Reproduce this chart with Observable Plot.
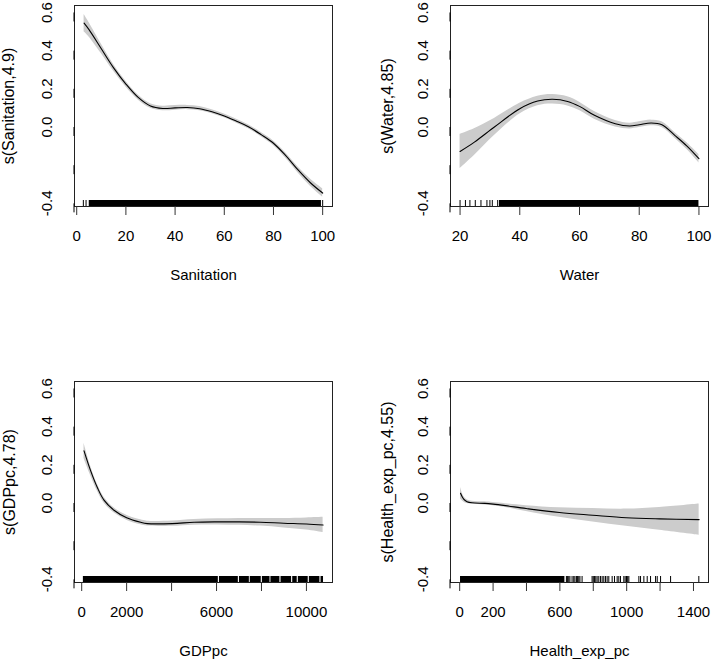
<!DOCTYPE html>
<html><head><meta charset="utf-8">
<script src="https://cdn.jsdelivr.net/npm/d3@7"></script>
<script src="https://cdn.jsdelivr.net/npm/@observablehq/plot@0.6"></script>
<style>
body{margin:0;background:#fff;}
#wrap{position:relative;width:713px;height:660px;overflow:hidden;}
#wrap svg{position:absolute;}
</style></head><body><div id="wrap"></div>
<script>
// Shared y axis
const yTicks = [-0.4, -0.2, 0, 0.2, 0.4, 0.6];
const yTickLabels = ["-0.4", "", "0.0", "0.2", "0.4", "0.6"];

// Panel 1: Sanitation
const sanX   = [3, 5, 10, 15, 20, 25, 30, 35, 40, 45, 50, 55, 60, 65, 70, 75, 80, 85, 90, 95, 100];
const sanFit = [0.544, 0.51, 0.41, 0.31, 0.225, 0.155, 0.11, 0.097, 0.100, 0.102, 0.096, 0.080, 0.058, 0.030, 0.0, -0.040, -0.085, -0.150, -0.225, -0.292, -0.346];
const sanSe  = [0.045, 0.038, 0.025, 0.018, 0.015, 0.013, 0.012, 0.012, 0.012, 0.011, 0.011, 0.010, 0.010, 0.010, 0.010, 0.011, 0.012, 0.014, 0.016, 0.019, 0.022];
const sanRugTicks = [2.7, 3.8, 100];
const sanRugDense = [[5.1, 99.5]];
const sanXTicks = [0, 20, 40, 60, 80, 100];
const sanXLabels = ["0", "20", "40", "60", "80", "100"];

// Panel 2: Water
const watX   = [20, 24.8, 31.5, 40, 46, 51, 56, 60, 65, 72, 76.8, 80, 84, 87.6, 92, 96, 100];
const watFit = [-0.128, -0.079, 0.0, 0.096, 0.136, 0.145, 0.134, 0.108, 0.061, 0.017, 0.005, 0.012, 0.021, 0.012, -0.045, -0.100, -0.166];
const watSe  = [0.09, 0.07, 0.045, 0.028, 0.025, 0.025, 0.024, 0.022, 0.020, 0.017, 0.015, 0.015, 0.015, 0.015, 0.015, 0.018, 0.022];
const watRugTicks = [20, 21.8, 23.3, 25.1, 27, 29, 30, 30.8, 32.6];
const watRugDense = [[33.2, 100]];
const watXTicks = [20, 40, 60, 80, 100];
const watXLabels = ["20", "40", "60", "80", "100"];

// Panel 3: GDPpc
const gdpX   = [104, 400, 696, 993, 1437, 2000, 2622, 2919, 4030, 5000, 6030, 7000, 7956, 8993, 10000, 10742];
const gdpFit = [0.273, 0.168, 0.081, 0.015, -0.038, -0.077, -0.101, -0.108, -0.108, -0.101, -0.099, -0.099, -0.101, -0.106, -0.110, -0.115];
const gdpSe  = [0.04, 0.025, 0.018, 0.015, 0.013, 0.013, 0.013, 0.013, 0.014, 0.015, 0.016, 0.018, 0.020, 0.025, 0.032, 0.040];
const gdpRugTicks = [];
const gdpRugDense = [[75, 6080], [6130, 6970], [7020, 7460], [7500, 7990], [8040, 8380], [8420, 8820], [8870, 9340], [9390, 9590], [9640, 10080], [10130, 10600], [10650, 10760]];
const gdpXTicks = [0, 2000, 4000, 6000, 8000, 10000];
const gdpXLabels = ["0", "2000", "", "6000", "", "10000"];

// Panel 4: Health_exp_pc
const hlthX   = [5, 24, 44, 74, 150, 200, 274, 398, 597, 797, 997, 1197, 1434];
const hlthFit = [0.051, 0.020, 0.007, 0.001, -0.002, -0.006, -0.014, -0.029, -0.050, -0.064, -0.077, -0.083, -0.087];
const hlthSe  = [0.030, 0.015, 0.010, 0.008, 0.008, 0.008, 0.010, 0.015, 0.025, 0.035, 0.045, 0.060, 0.082];
const hlthRugTicks = [639, 645, 653, 660, 673, 683, 690, 699, 705, 713, 720, 733, 793, 800, 807, 815, 823, 833, 843, 853, 863, 873, 883, 893, 913, 927, 943, 953, 963, 983, 991, 999, 1006, 1013, 1073, 1083, 1103, 1123, 1143, 1173, 1183, 1203, 1263, 1432];
const hlthRugDense = [[5, 630]];
const hlthXTicks = [0, 200, 400, 600, 800, 1000, 1200, 1400];
const hlthXLabels = ["0", "200", "", "600", "", "1000", "", "1400"];

const yDom = [-0.4165, 0.6365];
const rugH = 6 / 191;

function panel(o) {
  const data = o.xs.map((x, i) => ({x, y: o.fit[i], lo: o.fit[i] - o.se[i], hi: o.fit[i] + o.se[i]}));
  const p = Plot.plot({
    width: o.w, height: o.h,
    marginLeft: o.ml, marginRight: o.mr, marginTop: o.mt, marginBottom: o.mb,
    style: {fontFamily: "'Liberation Sans', Arial, sans-serif", fontSize: "15px", color: "#000", background: "transparent", overflow: "visible"},
    x: {domain: o.xDomain},
    y: {domain: yDom},
    marks: [
      Plot.areaY(data, {x: "x", y1: "lo", y2: "hi", fill: "#cccccc", curve: "catmull-rom"}),
      Plot.lineY(data, {x: "x", y: "y", stroke: "#000", strokeWidth: 1.1, curve: "catmull-rom"}),
      Plot.rect(o.rugDense, {x1: d => d[0], x2: d => d[1], y1: yDom[0], y2: yDom[0] + rugH, fill: "#000"}),
      Plot.ruleX(o.rugTicks, {x: d => d, y1: yDom[0], y2: yDom[0] + rugH, stroke: "#000", strokeWidth: 1}),
      Plot.frame({stroke: "#222"}),
      Plot.axisX({ticks: o.xTicks, tickFormat: d => o.xLabels[o.xTicks.indexOf(d)], tickSize: 9, tickPadding: 15, label: null, stroke: "#333"}),
      Plot.axisY({ticks: yTicks, tickFormat: d => yTickLabels[yTicks.indexOf(d)], tickSize: 9, tickPadding: 18, rotate: -90, textAnchor: "middle", label: null}),
      Plot.text([o.xTitle], {text: d => d, frameAnchor: "bottom", lineAnchor: "middle", dy: 69}),
      Plot.text([o.yTitle], {text: d => d, frameAnchor: "left", textAnchor: "middle", lineAnchor: "middle", dx: o.yTitleDx, rotate: -90, fontSize: 16})
    ]
  });
  p.style.left = o.left + "px";
  p.style.top = o.top + "px";
  document.getElementById("wrap").appendChild(p);
}

panel({xs: sanX, fit: sanFit, se: sanSe, rugTicks: sanRugTicks, rugDense: sanRugDense, xTicks: sanXTicks, xLabels: sanXLabels,
  xDomain: [-0.9, 104], xTitle: "Sanitation", yTitle: "s(Sanitation,4.9)", yTitleDx: -66,
  w: 356, h: 330, ml: 74, mr: 24, mt: 5, mb: 124, left: 0, top: 0});
panel({xs: watX, fit: watFit, se: watSe, rugTicks: watRugTicks, rugDense: watRugDense, xTicks: watXTicks, xLabels: watXLabels,
  xDomain: [16.8, 103.2], xTitle: "Water", yTitle: "s(Water,4.85)", yTitleDx: -63,
  w: 357, h: 330, ml: 94, mr: 5, mt: 5, mb: 124, left: 356, top: 0});
panel({xs: gdpX, fit: gdpFit, se: gdpSe, rugTicks: gdpRugTicks, rugDense: gdpRugDense, xTicks: gdpXTicks, xLabels: gdpXLabels,
  xDomain: [-320, 11160], xTitle: "GDPpc", yTitle: "s(GDPpc,4.78)", yTitleDx: -65,
  w: 356, h: 330, ml: 74, mr: 24, mt: 51, mb: 78, left: 0, top: 330});
panel({xs: hlthX, fit: hlthFit, se: hlthSe, rugTicks: hlthRugTicks, rugDense: hlthRugDense, xTicks: hlthXTicks, xLabels: hlthXLabels,
  xDomain: [-55, 1490], xTitle: "Health_exp_pc", yTitle: "s(Health_exp_pc,4.55)", yTitleDx: -63,
  w: 357, h: 330, ml: 94, mr: 5, mt: 51, mb: 78, left: 356, top: 330});
</script></body></html>
